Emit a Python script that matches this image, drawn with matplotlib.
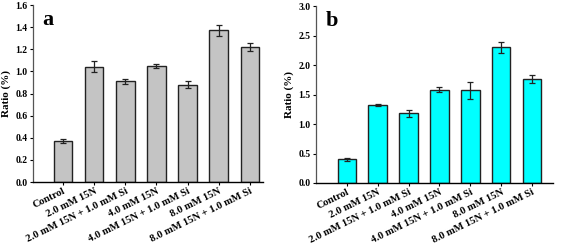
import numpy as np
import matplotlib
matplotlib.use("Agg")
import matplotlib.pyplot as plt

plt.rcParams['font.family'] = ['Liberation Serif', 'DejaVu Serif']
plt.rcParams['font.weight'] = 'bold'

categories = ['Control', '2.0 mM 15N', '2.0 mM 15N + 1.0 mM Si', '4.0 mM 15N',
              '4.0 mM 15N + 1.0 mM Si', '8.0 mM 15N', '8.0 mM 15N + 1.0 mM Si']

ratio_a = [0.37, 1.04, 0.91, 1.05, 0.88, 1.37, 1.22]
err_a = [0.02, 0.05, 0.02, 0.02, 0.03, 0.05, 0.04]

ratio_b = [0.40, 1.32, 1.18, 1.58, 1.57, 2.30, 1.76]
err_b = [0.02, 0.02, 0.06, 0.04, 0.15, 0.09, 0.07]

fig = plt.figure(figsize=(5.67, 2.47), dpi=100)
W, H = 567, 247

def draw_panel(rect, vals, errs, color, ymax, ystep, letter, xlim):
    ax = fig.add_axes([rect[0] / W, 1 - rect[3] / H, (rect[2] - rect[0]) / W, (rect[3] - rect[1]) / H])
    x = np.arange(len(vals))
    ax.bar(x, vals, width=0.6, color=color, edgecolor='#222222', linewidth=1.0,
           yerr=errs, capsize=2.5, error_kw=dict(elinewidth=0.9, capthick=0.9, ecolor='#222222'))
    ax.set_xlim(*xlim)
    ax.set_ylim(0, ymax)
    ax.set_yticks(np.arange(0, ymax + ystep / 2, ystep))
    ax.yaxis.set_major_formatter(matplotlib.ticker.FormatStrFormatter('%.1f'))
    ax.set_xticks(x)
    ax.set_xticklabels(categories, rotation=26, ha='right', rotation_mode='anchor', fontsize=7.6)
    ax.tick_params(axis='y', labelsize=7, length=2, width=0.8, direction='out', pad=2)
    ax.tick_params(axis='x', length=2, width=0.8, pad=1)
    for s in ['top', 'right']:
        ax.spines[s].set_visible(False)
    ax.spines['left'].set_linewidth(0.9)
    ax.spines['left'].set_color('#555555')
    ax.spines['bottom'].set_linewidth(1.0)
    ax.set_ylabel('Ratio (%)', fontsize=8, fontweight='bold', labelpad=3)
    ax.text(0.04, 0.97, letter, transform=ax.transAxes, fontsize=16, fontweight='bold',
            va='top', ha='left')
    return ax

draw_panel((33, 5, 263, 182), ratio_a, err_a, '#c4c4c4', 1.6, 0.2, 'a', (-0.96, 6.42))
draw_panel((316, 6, 553, 183), ratio_b, err_b, '#00ffff', 3.0, 0.5, 'b', (-1.0, 6.68))

fig.savefig('out.png', dpi=100)
